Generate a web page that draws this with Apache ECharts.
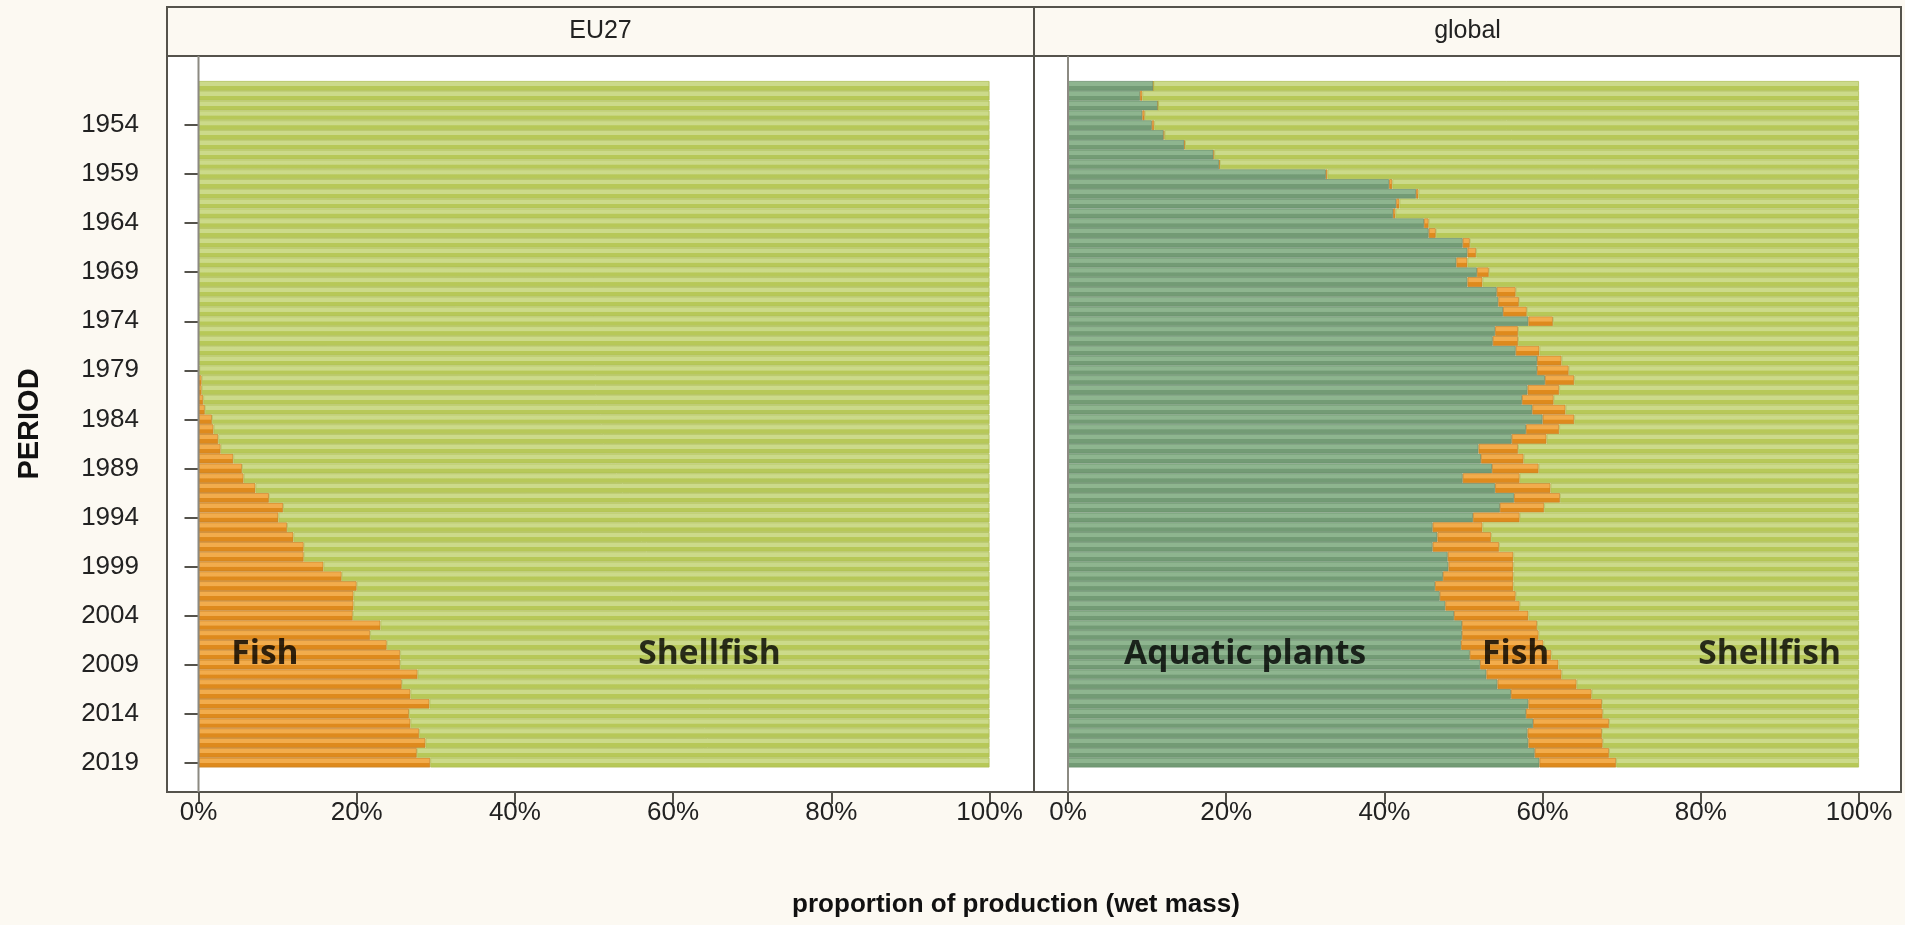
<!DOCTYPE html>
<html><head><meta charset="utf-8">
<script src="https://cdn.jsdelivr.net/npm/echarts@6/dist/echarts.min.js"></script>
<style>html,body{margin:0;padding:0;background:#fcf9f2;}#c{width:1905px;height:925px;}</style>
</head><body><div id="c"></div><script>
// ---------------- data ----------------
const years = ['1950','1951','1952','1953','1954','1955','1956','1957','1958','1959',
'1960','1961','1962','1963','1964','1965','1966','1967','1968','1969',
'1970','1971','1972','1973','1974','1975','1976','1977','1978','1979',
'1980','1981','1982','1983','1984','1985','1986','1987','1988','1989',
'1990','1991','1992','1993','1994','1995','1996','1997','1998','1999',
'2000','2001','2002','2003','2004','2005','2006','2007','2008','2009',
'2010','2011','2012','2013','2014','2015','2016','2017','2018','2019'];
const tickYears = ['1954','1959','1964','1969','1974','1979','1984','1989','1994','1999','2004','2009','2014','2019'];
const xTicks = [0,20,40,60,80,100];
const panels = ['EU27','global'];

// EU27 (% of wet mass)
const euFish = [0,0,0,0,0,0,0,0,0,0,
0,0,0,0,0,0,0,0,0,0,
0,0,0,0,0,0,0,0,0,0.1,
0.4,0.4,0.6,0.8,1.7,1.9,2.5,2.8,4.4,5.5,
5.7,7.2,8.9,10.7,10.1,11.2,12.0,13.3,13.3,15.8,
18.1,20.0,19.6,19.6,19.5,23.0,21.7,23.8,25.5,25.5,
27.7,25.7,26.8,29.2,26.6,26.8,27.9,28.7,27.6,29.3];
const euShellfish = [100,100,100,100,100,100,100,100,100,100,
100,100,100,100,100,100,100,100,100,100,
100,100,100,100,100,100,100,100,100,99.9,
99.6,99.6,99.4,99.2,98.3,98.1,97.5,97.2,95.6,94.5,
94.3,92.8,91.1,89.3,89.9,88.8,88.0,86.7,86.7,84.2,
81.9,80.0,80.4,80.4,80.5,77.0,78.3,76.2,74.5,74.5,
72.3,74.3,73.2,70.8,73.4,73.2,72.1,71.3,72.4,70.7];

// global (% of wet mass)
const glPlants = [10.8,9.1,11.4,9.4,10.6,12.1,14.7,18.4,19.1,32.6,
40.6,44.0,41.5,41.1,45.0,45.6,49.9,50.5,49.1,51.7,
50.5,54.2,54.4,55.0,58.2,54.0,53.7,56.6,59.3,59.3,
60.3,58.1,57.4,58.7,60.0,57.9,56.1,51.9,52.2,53.6,
49.9,54.0,56.4,54.6,51.2,46.1,46.7,46.1,48.0,48.1,
47.4,46.4,47.0,47.7,48.8,49.8,49.8,49.7,50.8,52.1,
52.9,54.3,56.0,58.2,57.9,58.8,58.1,58.2,59.0,59.6];
const glFish = [0,0.3,0,0.3,0.3,0.1,0.1,0.1,0.1,0.2,
0.4,0.3,0.4,0.3,0.6,0.9,0.9,1.1,1.4,1.5,
1.9,2.4,2.6,3.0,3.1,2.9,3.2,3.0,3.1,4.0,
3.7,4.0,4.0,4.2,4.0,4.2,4.4,5.0,5.4,5.9,
7.2,7.0,5.8,5.6,5.9,6.3,6.8,8.4,8.3,8.2,
8.9,9.9,9.6,9.4,9.4,9.5,9.7,10.4,10.3,9.9,
9.5,10.0,10.2,9.3,9.7,9.6,9.4,9.4,9.4,9.7];
const glShellfish = [89.2,90.6,88.6,90.3,89.1,87.8,85.2,81.5,80.8,67.2,
59.0,55.7,58.1,58.6,54.4,53.5,49.2,48.4,49.5,46.8,
47.6,43.4,43.0,42.0,38.7,43.1,43.1,40.4,37.6,36.7,
36.0,37.9,38.6,37.1,36.0,37.9,39.5,43.1,42.4,40.5,
42.9,39.0,37.8,39.8,42.9,47.6,46.5,45.5,43.7,43.7,
43.7,43.7,43.4,42.9,41.8,40.7,40.5,39.9,38.9,38.0,
37.6,35.7,33.8,32.5,32.4,31.6,32.5,32.4,31.6,30.7];

// annotation labels: [panel, x value, category, text]
const annotations = [
  [0, 8.4, '2008', 'Fish'],
  [0, 64.6, '2008', 'Shellfish'],
  [1, 22.4, '2008', 'Aquatic plants'],
  [1, 56.6, '2008', 'Fish'],
  [1, 88.7, '2008', 'Shellfish']
];

// ---------------- fonts ----------------
function hasFont(name){
  const c = document.createElement('canvas').getContext('2d');
  const t = '1954 proportion PERIOD';
  c.font = '40px monospace'; const w1 = c.measureText(t).width;
  c.font = "40px '" + name + "', monospace"; const w2 = c.measureText(t).width;
  return Math.abs(w1 - w2) > 0.5;
}
const NARROW = hasFont('Liberation Sans Narrow');
const TICKFONT = NARROW ? "'Liberation Sans Narrow', 'Liberation Sans', sans-serif" : "'Liberation Sans', Arial, sans-serif";
const FS = NARROW ? {tick:31, head:29, title:31, period:32} : {tick:26, head:25, title:26, period:29};

// ---------------- layout ----------------
const FR = {top:56, bottom:792, x0:167, x1:1034, x2:1901, hTop:7};
const GT = 81, GH = 686.5;
const grids = [{left:198.5, top:GT, width:791, height:GH},{left:1068, top:GT, width:791, height:GH}];
const AX = '#55534c';

function grad(light, dark){
  return new echarts.graphic.LinearGradient(0,0,0,1,[
    {offset:0,color:light},{offset:0.5,color:light},{offset:0.55,color:dark},{offset:1,color:dark}]);
}
const COL = {
  shell: {c: grad('#ccda8a','#b7c858'), b:'#aebf55'},
  fish:  {c: grad('#f2ac4c','#de8a1d'), b:'#c98326'},
  plant: {c: grad('#8eb58f','#739b75'), b:'#6b906d'}
};
const isTick = (i) => tickYears.indexOf(years[i]) >= 0;

function barSeries(name, data, gi, col){
  return {
    name, type:'bar', stack:'s'+gi, xAxisIndex:gi, yAxisIndex:gi, data,
    barCategoryGap:'0%', barWidth:'100%',
    itemStyle:{color:col.c, borderColor:col.b, borderWidth:0.8},
    emphasis:{disabled:true}, silent:true, animation:false
  };
}

const series = [
  barSeries('Fish', euFish, 0, COL.fish),
  barSeries('Shellfish', euShellfish, 0, COL.shell),
  barSeries('Aquatic plants', glPlants, 1, COL.plant),
  barSeries('Fish', glFish, 1, COL.fish),
  barSeries('Shellfish', glShellfish, 1, COL.shell)
];
// annotation text via invisible scatter points
[0,1].forEach(gi => {
  series.push({
    type:'scatter', xAxisIndex:gi, yAxisIndex:gi, symbolSize:0, silent:true, animation:false, z:20,
    data: annotations.filter(a => a[0]===gi).map(a => ({value:[a[1], a[2]], name:a[3]})),
    label:{show:true, position:'inside', formatter:(p)=>p.name, color:'#000',
      fontFamily:'Open Sans, Noto Sans, sans-serif', fontWeight:'bold', fontSize:33.5}
  });
});

const xAxes = grids.map((g,gi) => ({
  type:'value', gridIndex:gi, min:xTicks[0], max:xTicks[xTicks.length-1], interval:xTicks[1]-xTicks[0],
  offset: FR.bottom - (GT+GH),
  axisLine:{show:false}, splitLine:{show:false},
  axisTick:{show:true, length:12, lineStyle:{color:AX, width:2}},
  axisLabel:{formatter:'{value}%', color:'#222', fontFamily:TICKFONT, fontSize:FS.tick, margin:8}
}));
const yAxes = grids.map((g,gi) => ({
  type:'category', gridIndex:gi, data:years, inverse:true,
  offset: gi===0 ? (grids[0].left - FR.x0) : 0,
  axisLine:{show:false}, splitLine:{show:false},
  axisTick:{show:gi===0, length:14, alignWithLabel:true, interval:(i)=>isTick(i), lineStyle:{color:AX, width:2}},
  axisLabel:{show:gi===0, interval:(i)=>isTick(i), color:'#222', fontFamily:TICKFONT, fontSize:FS.tick, margin:28}
}));

const graphic = [];
// panel backgrounds + frames
[[FR.x0,FR.x1],[FR.x1,FR.x2]].forEach((p,i) => {
  graphic.push({type:'rect', z:-10, shape:{x:p[0], y:FR.top, width:p[1]-p[0], height:FR.bottom-FR.top},
    style:{fill:'#ffffff', stroke:AX, lineWidth:2}});
  graphic.push({type:'rect', z:-10, shape:{x:p[0], y:FR.hTop, width:p[1]-p[0], height:FR.top-FR.hTop},
    style:{fill:'#fcf9f2', stroke:AX, lineWidth:2}});
  graphic.push({type:'text', z:5, x:(p[0]+p[1])/2, y:(FR.hTop+FR.top)/2,
    style:{text:panels[i], fill:'#222', font:FS.head+'px '+TICKFONT, align:'center', verticalAlign:'middle'}});
  graphic.push({type:'line', z:50, shape:{x1:grids[i].left, y1:FR.top, x2:grids[i].left, y2:FR.bottom},
    style:{stroke:'#8c8a82', lineWidth:2}});
});
graphic.push({type:'text', z:5, x:1016, y:905,
  style:{text:'proportion of production (wet mass)', fill:'#111', font:'bold '+FS.title+'px '+TICKFONT, align:'center', verticalAlign:'middle'}});
graphic.push({type:'text', z:5, x:30, y:424, rotation:Math.PI/2,
  style:{text:'PERIOD', fill:'#111', font:'bold '+FS.period+'px '+TICKFONT, align:'center', verticalAlign:'middle'}});

const chart = echarts.init(document.getElementById('c'), null, {renderer:'canvas'});
chart.setOption({
  backgroundColor:'#fcf9f2', animation:false,
  grid: grids, xAxis: xAxes, yAxis: yAxes, series, graphic
});
</script></body></html>
